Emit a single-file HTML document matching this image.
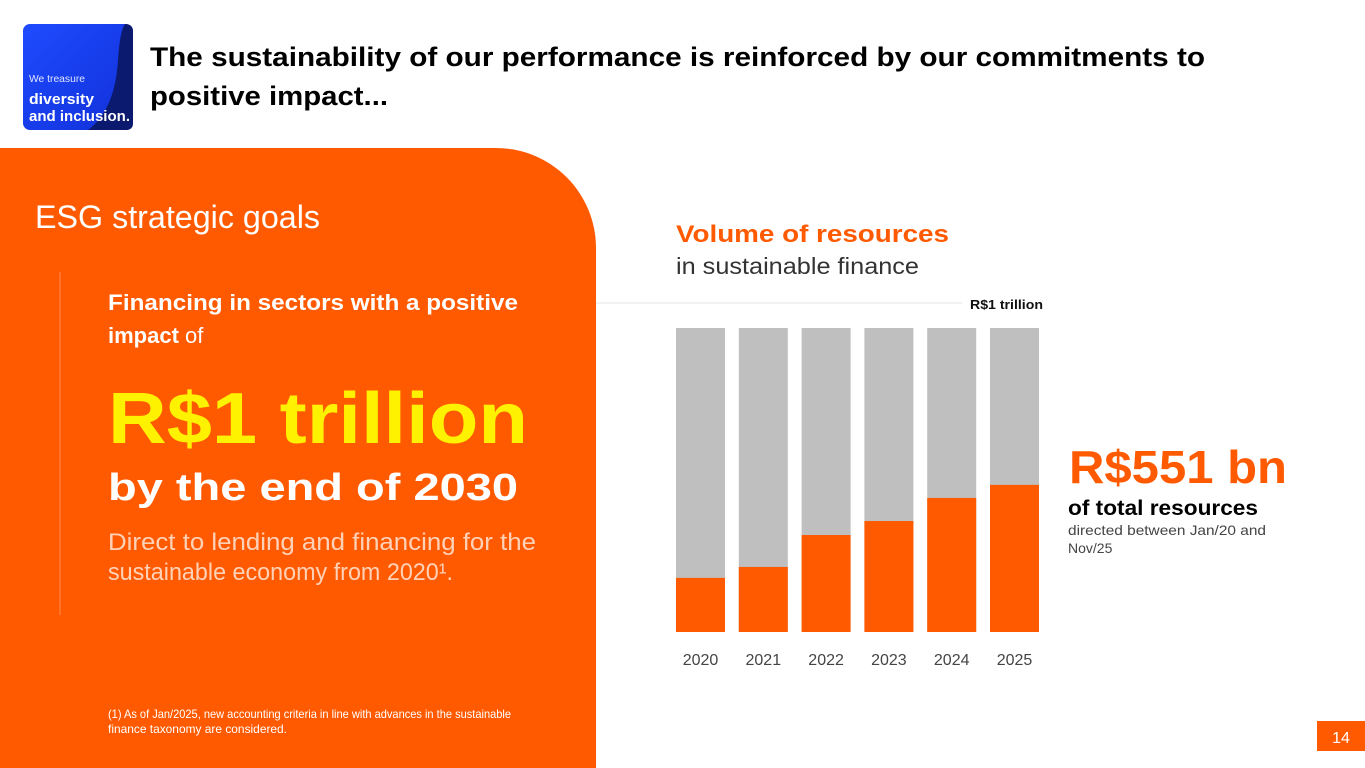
<!DOCTYPE html>
<html><head><meta charset="utf-8"><style>
html,body{margin:0;padding:0;background:#fff;width:1365px;height:768px;overflow:hidden}
svg{display:block;font-family:"Liberation Sans",sans-serif}
</style></head><body>
<svg id="s" width="1365" height="768" viewBox="0 0 1365 768">
<defs><linearGradient id="lg" x1="0" y1="0" x2="1" y2="1"><stop offset="0" stop-color="#1f4bff"/><stop offset="1" stop-color="#1030d8"/></linearGradient></defs>
<g>
<rect x="23" y="24" width="110" height="106" rx="7" fill="url(#lg)"/>
<path d="M125,24 Q133,24 133,32 L133,123 Q133,130 126,130 L88,130 Q115,110 118,60 Q120,30 125,24 Z" fill="#0b1a6e"/>
<text x="29" y="82" font-size="10" fill="#dfe6ff" textLength="56" lengthAdjust="spacingAndGlyphs">We treasure</text>
<text x="29" y="104" font-size="15" font-weight="bold" fill="#fff" textLength="65" lengthAdjust="spacingAndGlyphs">diversity</text>
<text x="29" y="121" font-size="15" font-weight="bold" fill="#fff" textLength="101" lengthAdjust="spacingAndGlyphs">and inclusion.</text>
</g>
<text font-size="27" font-weight="bold" fill="#000"><tspan x="150" y="66" textLength="1055" lengthAdjust="spacingAndGlyphs">The sustainability of our performance is reinforced by our commitments to</tspan><tspan x="150" y="105" textLength="238" lengthAdjust="spacingAndGlyphs">positive impact...</tspan></text>
<path d="M0,148 L496,148 A100,100 0 0 1 596,248 L596,768 L0,768 Z" fill="#ff5a00"/>
<text x="35" y="228" font-size="32" fill="#fff" textLength="285" lengthAdjust="spacingAndGlyphs">ESG strategic goals</text>
<line x1="60" y1="272" x2="60" y2="615" stroke="#ff8a4a" stroke-width="1"/>
<text x="108" y="310" font-size="22" font-weight="bold" fill="#fff" textLength="410" lengthAdjust="spacingAndGlyphs">Financing in sectors with a positive</text>
<text x="108" y="343" font-size="22" fill="#fff"><tspan font-weight="bold">impact</tspan> of</text>
<text x="108" y="443" font-size="72" font-weight="bold" fill="#fff200" textLength="420" lengthAdjust="spacingAndGlyphs">R$1 trillion</text>
<text x="108" y="500" font-size="38" font-weight="bold" fill="#fff" textLength="410" lengthAdjust="spacingAndGlyphs">by the end of 2030</text>
<text font-size="24" fill="#ffd2b8"><tspan x="108" y="550" textLength="428" lengthAdjust="spacingAndGlyphs">Direct to lending and financing for the</tspan><tspan x="108" y="580" textLength="345" lengthAdjust="spacingAndGlyphs">sustainable economy from 2020¹.</tspan></text>
<text font-size="12" fill="#fff"><tspan x="108" y="718" textLength="403" lengthAdjust="spacingAndGlyphs">(1) As of Jan/2025, new accounting criteria in line with advances in the sustainable</tspan><tspan x="108" y="733" textLength="179" lengthAdjust="spacingAndGlyphs">finance taxonomy are considered.</tspan></text>
<text x="676" y="242" font-size="24" font-weight="bold" fill="#ff5a00" textLength="273" lengthAdjust="spacingAndGlyphs">Volume of resources</text>
<text x="676" y="274" font-size="23" fill="#333" textLength="243" lengthAdjust="spacingAndGlyphs">in sustainable finance</text>
<line x1="596" y1="303" x2="962" y2="303" stroke="#e6e6e6" stroke-width="1"/>
<text x="970" y="309" font-size="13" font-weight="bold" fill="#111" textLength="73" lengthAdjust="spacingAndGlyphs">R$1 trillion</text>
<g id="bars"></g>
<text x="1069" y="483" font-size="46" font-weight="bold" fill="#ff5a00" textLength="218" lengthAdjust="spacingAndGlyphs">R$551 bn</text>
<text x="1068" y="515" font-size="21" font-weight="bold" fill="#000" textLength="190" lengthAdjust="spacingAndGlyphs">of total resources</text>
<text font-size="14" fill="#444"><tspan x="1068" y="535" textLength="198" lengthAdjust="spacingAndGlyphs">directed between Jan/20 and</tspan><tspan x="1068" y="553">Nov/25</tspan></text>
<rect x="1317" y="721" width="48" height="30" fill="#ff5a00"/>
<text x="1341" y="743" font-size="16" fill="#fff" text-anchor="middle">14</text>
</svg>
<script>
const years = ["2020","2021","2022","2023","2024","2025"];
const values = [178, 214, 319, 365, 441, 484];
const targetValue = 1000;
const NS = "http://www.w3.org/2000/svg";
const g = document.getElementById('bars');
const x0 = 676, step = 62.8, bw = 49, yTop = 328, yBot = 632;
function xPos(i){ return x0 + i*step; }
function yPos(v){ return yBot - (v/targetValue)*(yBot-yTop); }
years.forEach((yr,i)=>{
  const bg = document.createElementNS(NS,'rect');
  
  
  bg.setAttribute('x', xPos(i)); bg.setAttribute('y', yPos(targetValue));
  bg.setAttribute('width', bw); bg.setAttribute('height', yBot - yPos(targetValue));
  bg.setAttribute('fill', '#bfbfbf');
  g.appendChild(bg);
  const r = document.createElementNS(NS,'rect');
  
  
  r.setAttribute('x', xPos(i)); r.setAttribute('y', yPos(values[i]));
  r.setAttribute('width', bw); r.setAttribute('height', yBot - yPos(values[i]));
  r.setAttribute('fill', '#ff5a00');
  g.appendChild(r);
  const t = document.createElementNS(NS,'text');
  
  
  t.setAttribute('x', xPos(i) + bw/2); t.setAttribute('y', 665);
  t.setAttribute('font-size', '16'); t.setAttribute('fill', '#444');
  t.setAttribute('text-anchor', 'middle');
  t.textContent = yr;
  g.appendChild(t);
});
</script>
</body></html>
